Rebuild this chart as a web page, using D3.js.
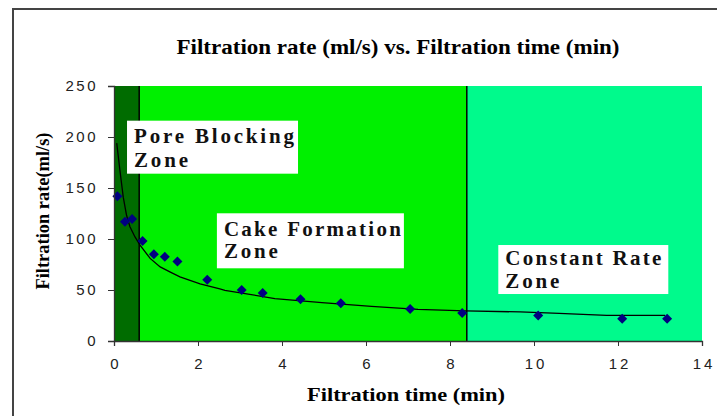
<!DOCTYPE html>
<html>
<head>
<meta charset="utf-8">
<script src="https://cdn.jsdelivr.net/npm/d3@7"></script>
<style>
  body { margin: 0; background: #fff; }
  svg { display: block; }
</style>
</head>
<body>
<svg id="chart"></svg>
<script>
// measured points (min, ml/s)
const timeMin = [0.08, 0.26, 0.43, 0.68, 0.95, 1.21, 1.51, 2.22, 3.04, 3.54, 4.44, 5.4, 7.05, 8.29, 10.1, 12.1, 13.17];
const rateMls = [142, 117, 119.5, 98, 85, 82.5, 78, 60, 50, 47, 41, 37, 31.4, 27.5, 25, 21.7, 21.7];

// trend line
const trendX = [0.065, 0.14, 0.22, 0.30, 0.38, 0.5, 0.62, 0.86, 1.1, 1.33, 1.57, 2.05, 2.52, 2.64, 3.83, 4.95, 6.13, 7.24, 8.36, 9.67, 10.6, 11.73, 13.12];
const trendY = [194, 167.6, 141, 123, 112, 102, 94, 81, 72.6, 67.7, 62.8, 56, 51, 49.7, 41.6, 37.7, 34, 31, 29.5, 28.5, 27, 25.2, 25.2];

// zones
const zoneStart = [0, 0.6, 8.4];
const zoneEnd = [0.6, 8.4, 14];
const zoneLabel = [['Pore Blocking', 'Zone'], ['Cake Formation', 'Zone'], ['Constant Rate', 'Zone']];

const xTicks = [0, 2, 4, 6, 8, 10, 12, 14];
const yTicks = [0, 50, 100, 150, 200, 250];

const W = 717, H = 416;
const svg = d3.select('#chart').attr('width', W).attr('height', H);

const x = d3.scaleLinear().domain([0, 14]).range([114, 702]);
const y = d3.scaleLinear().domain([0, 250]).range([341, 86]);

const zoneColor = ['#006c00', '#00f000', '#00fa8c'];
// label boxes: [x(min), top(ml/s), width px, height px, first baseline, line step, text width]
const labelBox = [
    [0.31, 216, 171, 53, 22, 24, 160],
    [2.45, 125.2, 187, 55, 22.5, 22.5, 177],
    [9.15, 94.1, 170, 49, 19.5, 23, 156]
];

// outer frame
svg.append('path')
    .attr('d', `M13,${H} L13,9 L${W},9`)
    .attr('fill', 'none')
    .attr('stroke', '#444')
    .attr('stroke-width', 2);

// zone backgrounds
const g = svg.append('g');
g.selectAll('rect.zone')
    .data(zoneStart)
    .enter()
    .append('rect')
    .attr('class', 'zone')
    .attr('x', d => x(d))
    .attr('y', y(250))
    .attr('width', (d, i) => x(zoneEnd[i]) - x(d))
    .attr('height', y(0) - y(250))
    .attr('fill', (d, i) => zoneColor[i]);

// zone dividers
g.selectAll('line.div')
    .data(zoneStart.slice(1))
    .enter()
    .append('line')
    .attr('x1', d => x(d)).attr('x2', d => x(d))
    .attr('y1', y(250)).attr('y2', y(0))
    .attr('stroke', '#000')
    .attr('stroke-width', 1.5);

// zone labels
zoneLabel.forEach((lines, i) => {
    const b = labelBox[i];
    const bx = x(b[0]), by = y(b[1]);
    g.append('rect')
        .attr('x', bx).attr('y', by)
        .attr('width', b[2]).attr('height', b[3])
        .attr('fill', '#fff');
    lines.forEach((t, j) => {
        g.append('text')
            .attr('x', bx + 7)
            .attr('y', by + b[4] + j * b[5])
            .attr('font-family', 'Liberation Serif, serif')
            .attr('font-weight', 'bold')
            .attr('font-size', 21)
            .attr('textLength', j == 0 ? b[6] : 54)
            .attr('lengthAdjust', 'spacing')
            .attr('fill', '#111')
            .text(t);
    });
});

// trend line
const line = d3.line()
    .x(d => x(d))
    .y((d, i) => y(trendY[i]));
g.append('path')
    .datum(trendX)
    .attr('d', line)
    .attr('fill', 'none')
    .attr('stroke', '#000')
    .attr('stroke-width', 1.3);

// data markers
g.selectAll('path.pt')
    .data(timeMin)
    .enter()
    .append('path')
    .attr('class', 'pt')
    .attr('transform', (d, i) => `translate(${x(d)},${y(rateMls[i])})`)
    .attr('d', 'M0,-5 L5,0 L0,5 L-5,0 Z')
    .attr('fill', '#000080');

// axes
const xAxis = svg.append('g')
    .attr('transform', `translate(0,${y(0)})`)
    .call(d3.axisBottom(x).tickValues(xTicks).tickSize(5).tickPadding(12).tickFormat(d3.format('d')));
const yAxis = svg.append('g')
    .attr('transform', `translate(${x(0)},0)`)
    .call(d3.axisLeft(y).tickValues(yTicks).tickSize(6).tickPadding(10).tickFormat(d3.format('d')));
[xAxis, yAxis].forEach(a => {
    a.select('.domain').attr('stroke', '#333').attr('stroke-width', 1.3);
    a.selectAll('.tick line').attr('stroke', '#333');
    a.selectAll('.tick text')
        .attr('font-family', 'Liberation Sans, Arial, sans-serif')
        .attr('font-size', 15)
        .attr('fill', '#222');
});
xAxis.selectAll('.tick text').attr('letter-spacing', 3).attr('dx', 1.5);
yAxis.selectAll('.tick text').attr('letter-spacing', 2.5);

// titles
svg.append('text')
    .attr('x', 398).attr('y', 54)
    .attr('text-anchor', 'middle')
    .attr('font-family', 'Liberation Serif, serif')
    .attr('font-weight', 'bold')
    .attr('font-size', 20)
    .attr('textLength', 443)
    .attr('lengthAdjust', 'spacingAndGlyphs')
    .text('Filtration rate (ml/s) vs. Filtration time (min)');

svg.append('text')
    .attr('x', 406).attr('y', 401)
    .attr('text-anchor', 'middle')
    .attr('font-family', 'Liberation Serif, serif')
    .attr('font-weight', 'bold')
    .attr('font-size', 19)
    .attr('textLength', 198)
    .attr('lengthAdjust', 'spacingAndGlyphs')
    .text('Filtration time (min)');

svg.append('text')
    .attr('transform', 'translate(49,211) rotate(-90)')
    .attr('text-anchor', 'middle')
    .attr('font-family', 'Liberation Serif, serif')
    .attr('font-weight', 'bold')
    .attr('font-size', 19)
    .attr('textLength', 157)
    .attr('lengthAdjust', 'spacingAndGlyphs')
    .text('Filtration rate(ml/s)');
</script>
</body>
</html>
